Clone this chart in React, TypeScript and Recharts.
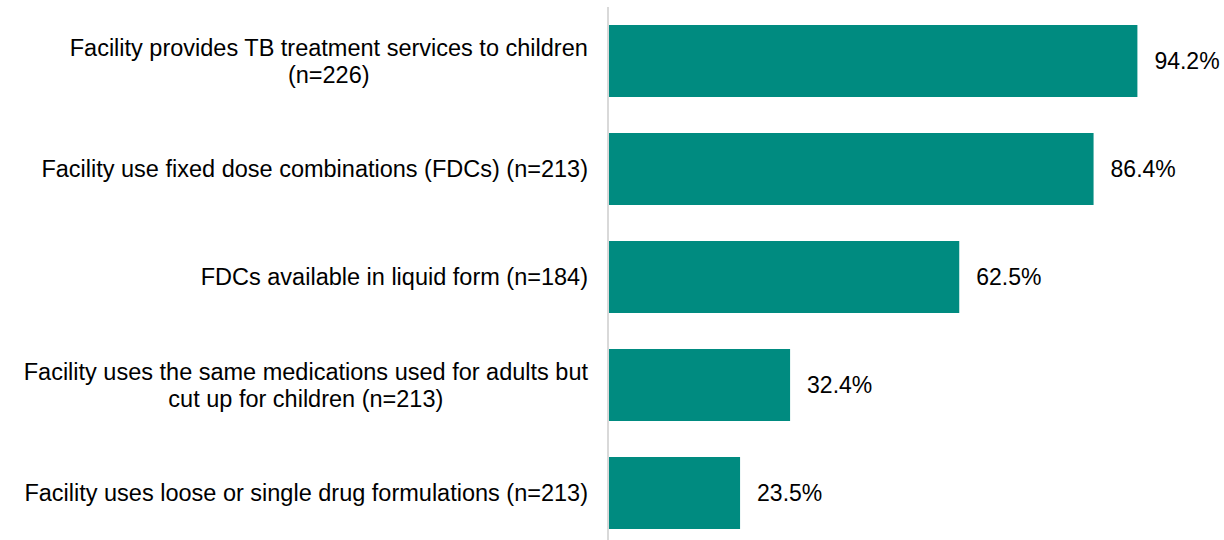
import { BarChart, Bar, XAxis, YAxis, LabelList } from 'recharts';

const categories = [
  ['Facility provides TB treatment services to children', '(n=226)'],
  ['Facility use fixed dose combinations (FDCs) (n=213)'],
  ['FDCs available in liquid form (n=184)'],
  ['Facility uses the same medications used for adults but', 'cut up for children (n=213)'],
  ['Facility uses loose or single drug formulations (n=213)'],
];
const percents = [94.2, 86.4, 62.5, 32.4, 23.5];

const data = categories.map((lines, i) => ({ name: lines.join(' '), lines, value: percents[i] }));

const FONT = '"Liberation Sans", Arial, sans-serif';
const TICK_FS = 23.5;
const LINE_H = 27;

let ctx: CanvasRenderingContext2D | null = null;
function textWidth(s: string) {
  if (!ctx) ctx = document.createElement('canvas').getContext('2d');
  if (!ctx) return s.length * 12;
  ctx.font = `${TICK_FS}px ${FONT}`;
  return ctx.measureText(s).width;
}

function LabelTick(props: any) {
  const { x, y, index } = props;
  const lines: string[] = data[index]?.lines ?? [props.payload.value];
  const widest = Math.max(...lines.map(textWidth));
  const cx = x - widest / 2;
  return (
    <g>
      {lines.map((ln, i) => (
        <text
          key={i}
          x={lines.length > 1 ? cx : x}
          y={y + (i - (lines.length - 1) / 2) * LINE_H}
          dy={8}
          textAnchor={lines.length > 1 ? 'middle' : 'end'}
          fontSize={TICK_FS}
          fontFamily={FONT}
          fill="#000"
        >
          {ln}
        </text>
      ))}
    </g>
  );
}

export default function App() {
  return (
    <div style={{ position: 'absolute', left: 0, top: 0, width: 1224, height: 540, overflow: 'hidden', background: '#fff' }}>
      <BarChart
        width={1224}
        height={548}
        data={data}
        layout="vertical"
        margin={{ top: 7, right: 54, bottom: 1, left: 0 }}
        barCategoryGap={18}
      >
        <XAxis type="number" domain={[0, 100]} hide />
        <YAxis
          type="category"
          dataKey="name"
          width={608}
          tickLine={false}
          tickSize={0}
          tickMargin={20}
          axisLine={{ stroke: '#d9d9d9', strokeWidth: 2 }}
          tick={<LabelTick />}
          interval={0}
        />
        <Bar dataKey="value" fill="#008B80" isAnimationActive={false}>
          <LabelList
            dataKey="value"
            position="right"
            offset={17}
            formatter={(v: any) => `${v}%`}
            fill="#000"
            fontSize={23}
            fontFamily={FONT}
          />
        </Bar>
      </BarChart>
    </div>
  );
}
